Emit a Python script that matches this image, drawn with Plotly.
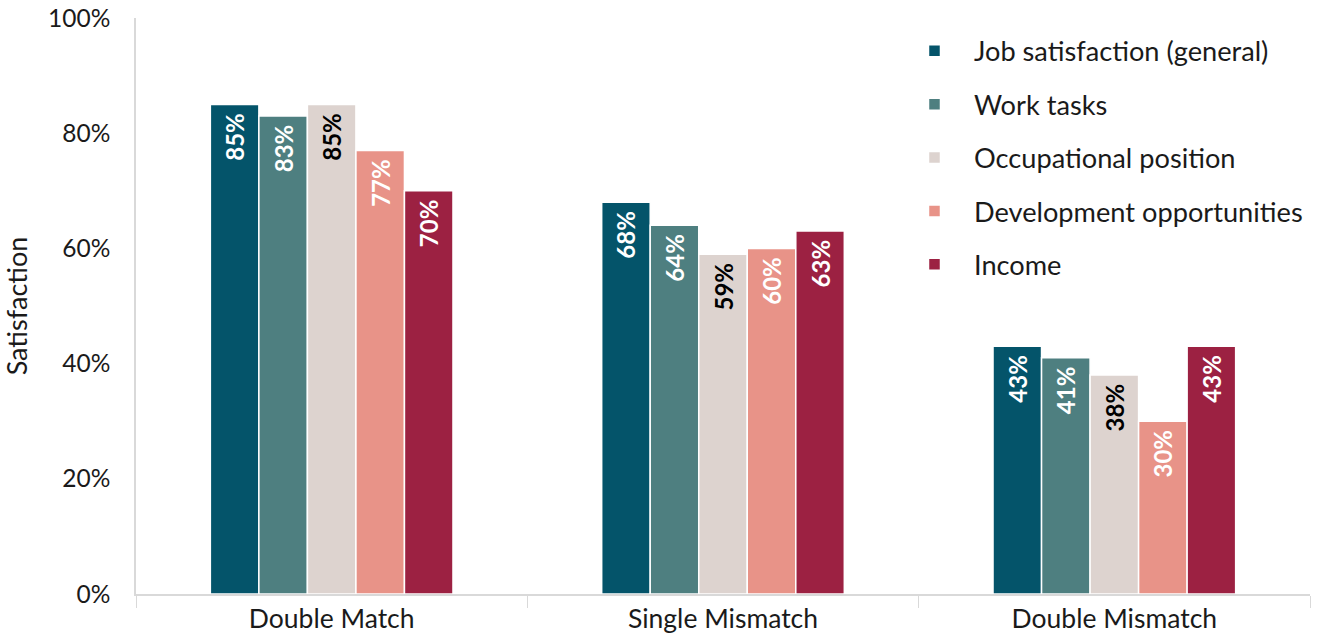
import plotly.graph_objects as go

categories = ["Double Match", "Single Mismatch", "Double Mismatch"]
series_names = ["Job satisfaction (general)", "Work tasks", "Occupational position",
                "Development opportunities", "Income"]
job_sat = [85, 68, 43]
work_tasks = [83, 64, 41]
occ_position = [85, 59, 38]
development = [77, 60, 30]
income = [70, 63, 43]
series_values = [job_sat, work_tasks, occ_position, development, income]
colors = ["#04546A", "#4E7F80", "#DDD3CF", "#E89388", "#9C2142"]
label_colors = ["white", "white", "black", "white", "white"]
y_ticks = [0, 20, 40, 60, 80, 100]

FONT = "Lato, 'Open Sans', sans-serif"

fig = go.Figure()
for i, (name, vals) in enumerate(zip(series_names, series_values)):
    fig.add_trace(go.Bar(
        name=name, x=categories, y=vals,
        marker=dict(color=colors[i], line=dict(color="white", width=1.5)),
        text=[f"{v}%\u00a0" for v in vals],
        textposition="inside", insidetextanchor="end", textangle=-90,
        textfont=dict(family=FONT, size=24, color=label_colors[i], weight="bold"),
        legendgroup=f"g{i}",
    ))

fig.update_layout(
    width=1318, height=636,
    margin=dict(l=136, r=8, t=18, b=42),
    paper_bgcolor="white", plot_bgcolor="white",
    barmode="group", bargap=0.38, bargroupgap=0,
    font=dict(family=FONT, color="#1a1a1a"),
    showlegend=True,
    legend=dict(x=0.6465, y=0.985, xanchor="left", yanchor="top",
                font=dict(family=FONT, size=27.2, color="#1a1a1a"),
                tracegroupgap=15, itemwidth=69, bgcolor="rgba(0,0,0,0)"),
    uniformtext=dict(minsize=24, mode="show"),
)
fig.update_xaxes(
    showline=True, linecolor="#D9D9D9", linewidth=1.5, automargin=False,
    ticks="outside", tickson="boundaries", ticklen=12, tickcolor="#D9D9D9",
    tickfont=dict(family=FONT, size=26.5, color="#1a1a1a"),
    showgrid=False,
)
fig.update_yaxes(
    range=[0, 100], tickvals=y_ticks, ticktext=[f"{t}%" for t in y_ticks],
    showline=True, linecolor="#D9D9D9", linewidth=1.5, showgrid=False, zeroline=False,
    tickfont=dict(family=FONT, size=24.5, color="#1a1a1a"),
    ticks="", ticklabelstandoff=19, automargin=False,
    title=dict(text="Satisfaction", font=dict(family=FONT, size=27, color="#1a1a1a"), standoff=16),
)

fig.write_html("out.html")
